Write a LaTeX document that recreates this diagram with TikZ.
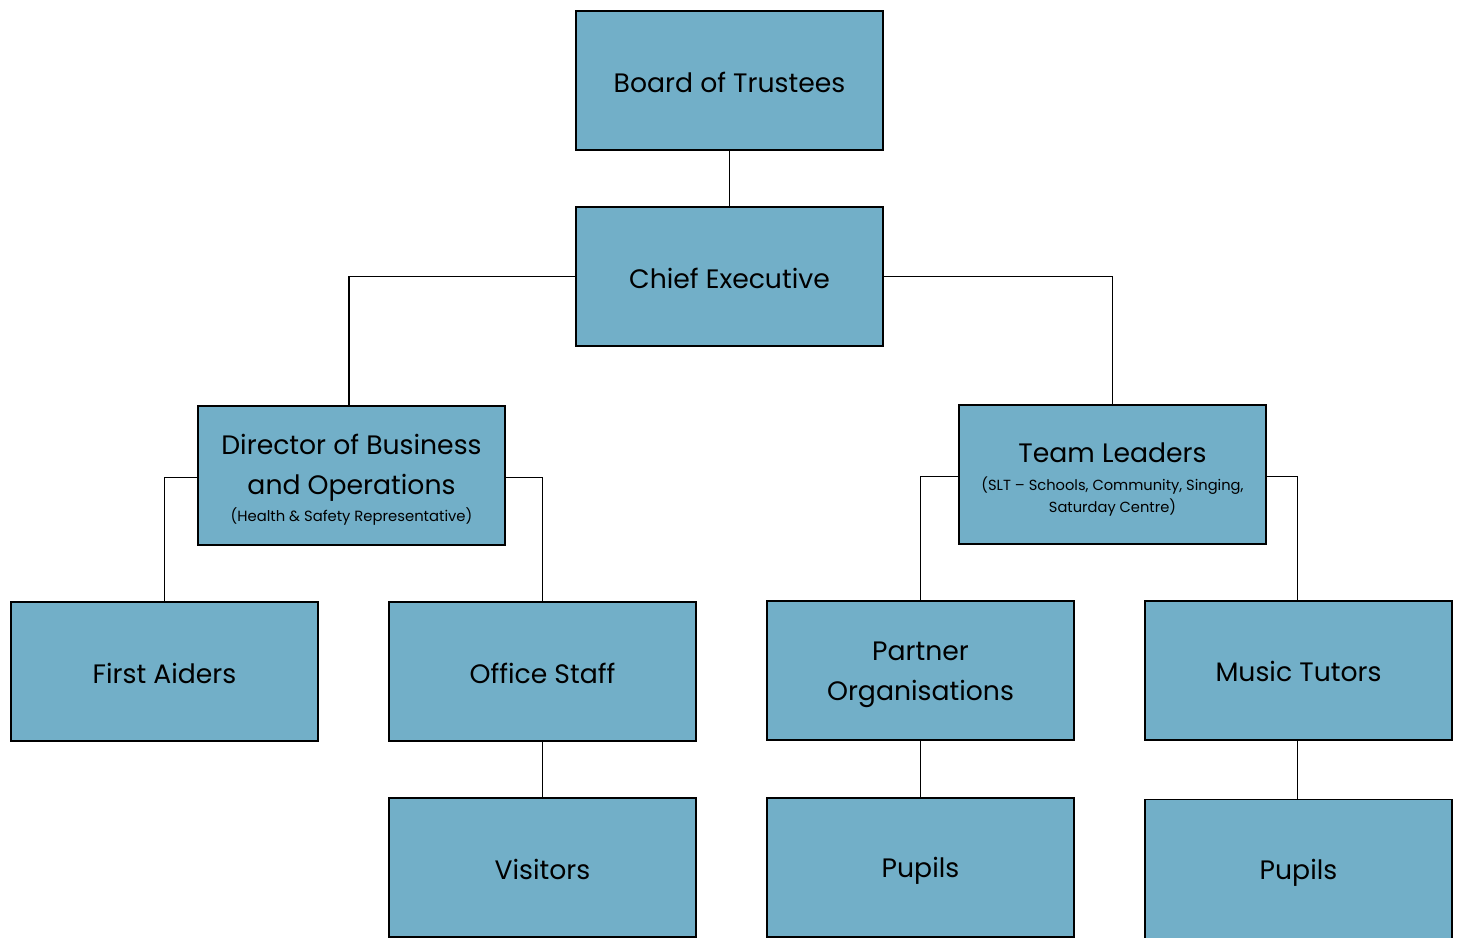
\documentclass[tikz,border=0pt]{standalone}
\usepackage{fontspec}
\setmainfont{Poppins}
\definecolor{boxblue}{HTML}{72AFC8}
\begin{document}
\begin{tikzpicture}[x=0.75pt,y=-0.75pt,
  box/.style={draw=black, line width=0.8pt, fill=boxblue, minimum width=230.25pt, minimum height=104.25pt, inner sep=0pt},
  lbl/.style={inner sep=0pt, align=center, font=\fontsize{20}{30}\selectfont, text=black},
  conn/.style={draw=black, line width=0.8pt}]
\useasboundingbox (0,0) rectangle (1461,938);
\node[box] (board) at (729.5,80.5) {};
\node[box] (chief) at (729.5,276.5) {};
\node[box] (dir) at (351.5,475.5) {};
\node[box] (team) at (1112.5,474.5) {};
\node[box] (first) at (164.5,671.5) {};
\node[box] (office) at (542.5,671.5) {};
\node[box] (partner) at (920.5,670.5) {};
\node[box] (music) at (1298.5,670.5) {};
\node[box] (visitors) at (542.5,867.5) {};
\node[box] (pupilsA) at (920.5,867.5) {};
\node[box] (pupilsB) at (1298.5,869) {};
\node[lbl] (tboard) at (729.5,82.5) {Board of Trustees};
\node[lbl] (tchief) at (729.5,278) {Chief Executive};
\node[lbl] (tdir) at (351.5,480) {Director of Business\\and Operations\\[-9.75pt]{\fontsize{11.1}{14}\selectfont (Health \& Safety Representative)}};
\node[lbl] (tteam) at (1112.5,479.5) {Team Leaders\\[-9.5pt]{\fontsize{11}{16.5}\selectfont (SLT – Schools, Community, Singing,}\\[-13.5pt]{\fontsize{11}{16.5}\selectfont Saturday Centre)}};
\node[lbl] (tfirst) at (164.5,673) {First Aiders};
\node[lbl] (toffice) at (542.5,673) {Office Staff};
\node[lbl] (tpartner) at (920.5,674.5) {Partner\\Organisations};
\node[lbl] (tmusic) at (1298.5,671.5) {Music Tutors};
\node[lbl] (tvisitors) at (542.5,869.5) {Visitors};
\node[lbl] (tpupilsA) at (920.5,871) {Pupils};
\node[lbl] (tpupilsB) at (1298.5,872.5) {Pupils};
\draw[conn] (board.south) -- (chief.north);
\draw[conn] (chief.west) -| ([xshift=-1.9pt]dir.north);
\draw[conn] (chief.east) -| (team.north);
\draw[conn] ([yshift=-1.5pt]dir.west) -| (first.north);
\draw[conn] ([yshift=-1.5pt]dir.east) -| (office.north);
\draw[conn] ([yshift=-1.5pt]team.west) -| (partner.north);
\draw[conn] ([yshift=-1.5pt]team.east) -| ([xshift=-1pt]music.north);
\draw[conn] (office.south) -- (visitors.north);
\draw[conn] (partner.south) -- (pupilsA.north);
\draw[conn] ([xshift=-1pt]music.south) -- ([xshift=-1pt]pupilsB.north);
\end{tikzpicture}
\end{document}
